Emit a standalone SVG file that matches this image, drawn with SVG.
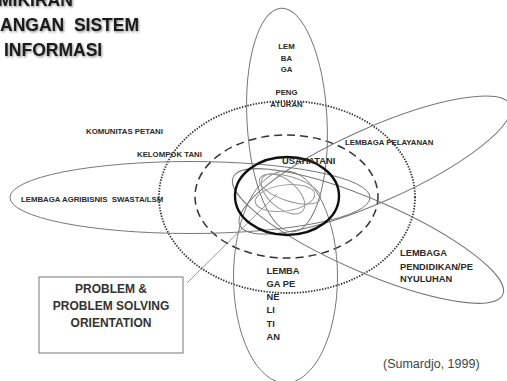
<svg xmlns="http://www.w3.org/2000/svg" width="507" height="381" viewBox="0 0 507 381">
  <defs>
    <filter id="soft-shadow" x="-10%" y="-30%" width="130%" height="180%">
      <feDropShadow dx="1" dy="1.2" stdDeviation="1" flood-color="#000" flood-opacity="0.45"/>
    </filter>
    <style>
      .arm { fill: none; stroke: #777; stroke-width: 1; }
      .core { fill: none; stroke: #999; stroke-width: 1; }
      .ring-dot { fill: none; stroke: #333; stroke-width: 1.8; stroke-dasharray: 1.4 1.4; }
      .ring-dash { fill: none; stroke: #333; stroke-width: 1.5; stroke-dasharray: 8 5; }
      .ring-bold { fill: none; stroke: #111; stroke-width: 2.4; }
      .lbl { font-family: "Liberation Sans", Arial, sans-serif; font-weight: bold; fill: #2a2a2a; }
      .s8 { font-size: 7.8px; }
      .s9 { font-size: 9.3px; }
      .title { font-family: "Liberation Sans", Arial, sans-serif; font-weight: bold; font-size: 17.5px; fill: #1a1a1a; }
      .box { fill: none; stroke: #777; stroke-width: 1; }
      .boxtxt { font-family: "Liberation Sans", Arial, sans-serif; font-weight: bold; font-size: 12px; fill: #333; text-anchor: middle; }
      .cite { font-family: "Liberation Sans", Arial, sans-serif; font-size: 12.5px; fill: #444; }
      .link { stroke: #999; stroke-width: 1; fill: none; }
    </style>
  </defs>

  <rect width="507" height="381" fill="#fff"/>

  <!-- heading -->
  <g id="title" filter="url(#soft-shadow)">
    <text class="title" x="-2" y="6">MIKIRAN</text>
    <text class="title" x="0" y="31" xml:space="preserve">ANGAN  SISTEM</text>
    <text class="title" x="4" y="56">INFORMASI</text>
  </g>

  <!-- connector from the problem box into the farm core -->
  <g id="connectors">
    <line class="link" x1="187" y1="283" x2="277" y2="194"/>
  </g>

  <!-- outer community ring -->
  <g id="node-komunitas">
    <ellipse class="ring-dot" cx="287" cy="197" rx="128" ry="96"/>
    <text class="lbl s8" x="86" y="134">KOMUNITAS PETANI</text>
  </g>

  <!-- farmer group ring -->
  <g id="node-kelompok">
    <ellipse class="ring-dash" cx="286.5" cy="196.5" rx="91.5" ry="61.5"/>
    <text class="lbl s8" x="137" y="157">KELOMPOK TANI</text>
  </g>

  <!-- institutional arms -->
  <g id="node-pengaturan">
    <ellipse class="arm" cx="287" cy="120" rx="40" ry="112" transform="rotate(-3 287 120)"/>
    <g class="lbl s8" text-anchor="middle">
      <text x="286.5" y="49">LEM</text>
      <text x="286.5" y="61">BA</text>
      <text x="286.5" y="72">GA</text>
      <text x="286.5" y="95">PENG</text>
      <text x="286.5" y="106.5">ATURAN</text>
    </g>
  </g>

  <g id="node-penelitian">
    <ellipse class="arm" cx="285.5" cy="277" rx="52" ry="106"/>
    <g class="lbl s9">
      <text x="266.5" y="273.5">LEMBA</text>
      <text x="266.5" y="286.5">GA PE</text>
      <text x="266.5" y="299.5">NE</text>
      <text x="266.5" y="312.5">LI</text>
      <text x="266.5" y="326.5">TI</text>
      <text x="266.5" y="340">AN</text>
    </g>
  </g>

  <g id="node-agribisnis">
    <ellipse class="arm" cx="190" cy="197.5" rx="180" ry="36"/>
    <text class="lbl s8" x="21" y="202" xml:space="preserve">LEMBAGA AGRIBISNIS  SWASTA/LSM</text>
  </g>

  <g id="node-pelayanan">
    <ellipse class="arm" cx="375" cy="165" rx="148" ry="37" transform="rotate(-24 375 165)"/>
    <text class="lbl s8" x="345" y="145">LEMBAGA PELAYANAN</text>
  </g>

  <g id="node-pendidikan">
    <ellipse class="arm" cx="368" cy="236" rx="147" ry="36" transform="rotate(23.5 368 236)"/>
    <g class="lbl s9">
      <text x="400" y="256">LEMBAGA</text>
      <text x="400" y="269.5">PENDIDIKAN/PE</text>
      <text x="400" y="282">NYULUHAN</text>
    </g>
  </g>

  <!-- farm enterprise at the centre -->
  <g id="node-usahatani">
    <ellipse class="core" cx="290" cy="189" rx="32" ry="12" transform="rotate(18 290 189)"/>
    <ellipse class="core" cx="285" cy="198" rx="30" ry="13" transform="rotate(-8 285 198)"/>
    <ellipse class="core" cx="283" cy="194" rx="26" ry="14" transform="rotate(40 283 194)"/>
    <ellipse class="ring-bold" cx="287" cy="196" rx="52" ry="39"/>
    <text class="lbl" style="font-size:9.3px" x="282" y="164">USAHATANI</text>
  </g>

  <!-- problem orientation box -->
  <g id="node-problem">
    <rect class="box" x="39" y="277" width="144" height="76"/>
    <text class="boxtxt" x="111" y="293">PROBLEM &amp;</text>
    <text class="boxtxt" x="111" y="310">PROBLEM SOLVING</text>
    <text class="boxtxt" x="111" y="327">ORIENTATION</text>
  </g>

  <text class="cite" x="383" y="368">(Sumardjo, 1999)</text>
</svg>
